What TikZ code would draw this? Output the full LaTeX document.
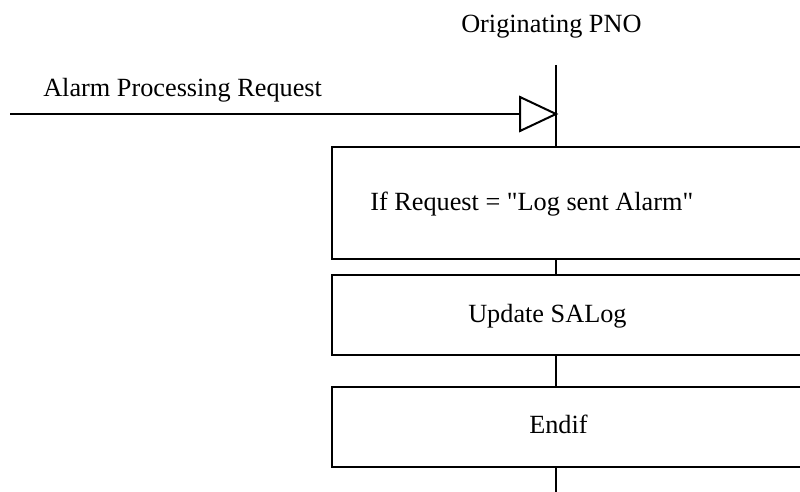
\documentclass[tikz,border=0pt]{standalone}
\usepackage{fontspec}
\setmainfont{Liberation Serif}[Ligatures=TeXOff]
\usetikzlibrary{calc}
\begin{document}
\begin{tikzpicture}[x=0.75pt,y=-0.75pt,
  box/.style={draw, line width=1.5pt, rectangle, inner sep=0pt, anchor=north west},
  lbl/.style={inner sep=0pt, anchor=base west, font=\fontsize{19.7}{23}\selectfont}]
\useasboundingbox (0,0) rectangle (800,492);
\clip (0,0) rectangle (800,492);
% boxes (extend past the right edge)
\node[box, minimum width=375pt, minimum height=84pt] (b1) at (331,146) {};
\node[box, minimum width=375pt, minimum height=60pt] (b2) at (331,274) {};
\node[box, minimum width=375pt, minimum height=60pt] (b3) at (331,386) {};
% texts
\node[lbl] (t0) at (461,33) {Originating PNO};
\node[lbl] (t1) at (43,97) {Alarm Processing Request};
\node[lbl] (t2) at (370,210) {If Request = "Log sent Alarm"};
\node[lbl] (t3) at (468,322) {Update SALog};
\node[lbl] (t4) at (529,433) {Endif};
% lifeline
\coordinate (top) at (556,65);
\coordinate (bot) at (556,500);
\draw[line width=1.5pt] (top) -- (top |- b1.north);
\draw[line width=1.5pt] (top |- b1.south) -- (top |- b2.north);
\draw[line width=1.5pt] (top |- b2.south) -- (top |- b3.north);
\draw[line width=1.5pt] (top |- b3.south) -- (bot);
% message
\coordinate (ms) at (10,114);
\coordinate (tb) at (520,114);
\coordinate (tip) at (556,114);
\draw[line width=1.5pt] (ms) -- (tb);
\draw[line width=1.5pt, line join=miter] ($(tb)+(0,-17)$) -- (tip) -- ($(tb)+(0,17)$) -- cycle;
\end{tikzpicture}
\end{document}
